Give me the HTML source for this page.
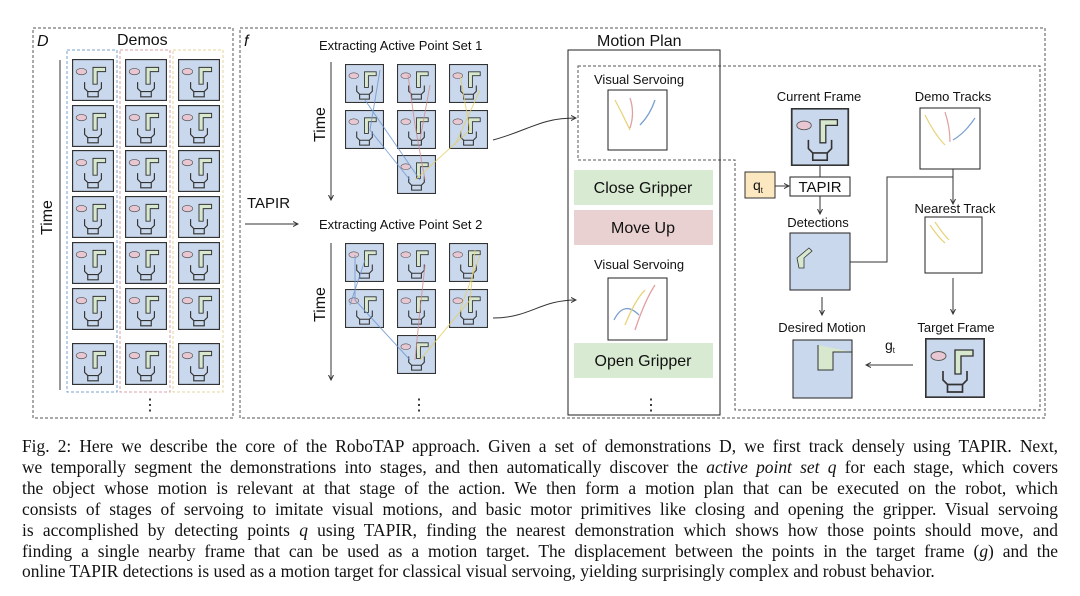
<!DOCTYPE html>
<html><head><meta charset="utf-8"><style>
html,body{margin:0;padding:0;background:#fff;width:1080px;height:596px;overflow:hidden}
.cap{position:absolute;left:22px;top:436px;width:1036px;font-family:"Liberation Serif",serif;font-size:17.4px;line-height:20.9px;color:#111}
.cap div{text-align:justify;text-align-last:justify;white-space:nowrap}
.cap div.l{text-align-last:left}
svg text{font-family:"Liberation Sans",sans-serif;fill:#111}
</style></head><body>
<svg width="1080" height="430" style="position:absolute;left:0;top:0">
<defs>
<marker id="ah" markerWidth="6" markerHeight="6" refX="5" refY="3" orient="auto"><path d="M0,0.5 L5,3 L0,5.5" fill="none" stroke="#333" stroke-width="1"/></marker>
<symbol id="t" viewBox="0 0 40 40">
<rect x="0.5" y="0.5" width="39" height="39" fill="#c9d8ec" stroke="#333" stroke-width="1.2"/>
<path d="M20 8 h12 v4 h-8 v12 h-4z" fill="#d8e8cf" stroke="#333" stroke-width="0.9"/>
<ellipse cx="9" cy="12" rx="5" ry="3" fill="#e8c7d3" stroke="#555" stroke-width="0.6"/>
<path d="M12 22 v6 l3 3 h10 l3 -3 v-6 M15 31 v5 h10 v-5" fill="none" stroke="#333" stroke-width="1.1"/>
</symbol>
</defs>
<g fill="none" stroke="#555" stroke-dasharray="3,2" stroke-width="1">
<rect x="33" y="28" width="200" height="390"/>
<rect x="240" y="28" width="805" height="390"/>
<rect x="67" y="50" width="50" height="342" stroke="#7aa0d0"/>
<rect x="120" y="50" width="50" height="342" stroke="#d9a0a8"/>
<rect x="173" y="50" width="50" height="342" stroke="#e6d49a"/>
<path d="M578 66 H1040 V410 H735 V160 H578 Z"/>
</g>
<text x="37" y="46" font-size="16" font-style="italic">D</text>
<text x="117" y="45" font-size="16">Demos</text>
<text x="244" y="46" font-size="16" font-style="italic">f</text>
<line x1="60" y1="60" x2="60" y2="390" stroke="#333"/>
<text transform="translate(52,235) rotate(-90)" font-size="16">Time</text>
<g>
<use href="#t" x="72" y="59" width="42" height="42"/><use href="#t" x="125" y="59" width="42" height="42"/><use href="#t" x="178" y="59" width="42" height="42"/>
<use href="#t" x="72" y="105" width="42" height="42"/><use href="#t" x="125" y="105" width="42" height="42"/><use href="#t" x="178" y="105" width="42" height="42"/>
<use href="#t" x="72" y="150" width="42" height="42"/><use href="#t" x="125" y="150" width="42" height="42"/><use href="#t" x="178" y="150" width="42" height="42"/>
<use href="#t" x="72" y="196" width="42" height="42"/><use href="#t" x="125" y="196" width="42" height="42"/><use href="#t" x="178" y="196" width="42" height="42"/>
<use href="#t" x="72" y="242" width="42" height="42"/><use href="#t" x="125" y="242" width="42" height="42"/><use href="#t" x="178" y="242" width="42" height="42"/>
<use href="#t" x="72" y="288" width="42" height="42"/><use href="#t" x="125" y="288" width="42" height="42"/><use href="#t" x="178" y="288" width="42" height="42"/>
<use href="#t" x="72" y="343" width="42" height="42"/><use href="#t" x="125" y="343" width="42" height="42"/><use href="#t" x="178" y="343" width="42" height="42"/>
</g>
<text x="142" y="410" font-size="16">⋮</text>
<text x="247" y="208" font-size="15">TAPIR</text>
<line x1="245" y1="224" x2="298" y2="224" stroke="#333" marker-end="url(#ah)"/>
<text x="319" y="50" font-size="13">Extracting Active Point Set 1</text>
<text x="319" y="229" font-size="13">Extracting Active Point Set 2</text>
<line x1="331" y1="62" x2="331" y2="200" stroke="#333" marker-end="url(#ah)"/>
<line x1="331" y1="243" x2="331" y2="380" stroke="#333" marker-end="url(#ah)"/>
<text transform="translate(325,142) rotate(-90)" font-size="16">Time</text>
<text transform="translate(325,322) rotate(-90)" font-size="16">Time</text>
<use href="#t" x="345" y="64" width="39" height="39"/><use href="#t" x="397" y="64" width="39" height="39"/><use href="#t" x="449" y="64" width="39" height="39"/>
<use href="#t" x="345" y="110" width="39" height="39"/><use href="#t" x="397" y="110" width="39" height="39"/><use href="#t" x="449" y="110" width="39" height="39"/>
<use href="#t" x="397" y="155" width="39" height="39"/>
<use href="#t" x="345" y="243" width="39" height="39"/><use href="#t" x="397" y="243" width="39" height="39"/><use href="#t" x="449" y="243" width="39" height="39"/>
<use href="#t" x="345" y="289" width="39" height="39"/><use href="#t" x="397" y="289" width="39" height="39"/><use href="#t" x="449" y="289" width="39" height="39"/>
<use href="#t" x="397" y="335" width="39" height="39"/>
<g fill="none" stroke-width="1" opacity="0.8">
<path d="M380 70 L370 130 L410 180 M365 100 L420 180" stroke="#6b95d0"/>
<path d="M408 75 L415 125 L425 180 M430 85 L420 140" stroke="#d08c8c"/>
<path d="M460 75 L470 130 L415 180 M480 90 L455 145" stroke="#e2cf6a"/>
<path d="M355 255 L355 300 L410 360 M365 260 L350 305" stroke="#6b95d0"/>
<path d="M425 265 L420 310 L415 360" stroke="#d08c8c"/>
<path d="M475 250 L470 300 L420 360 M480 255 L460 310" stroke="#e2cf6a"/>
</g>
<text x="411" y="410" font-size="16">⋮</text>
<path d="M493 140 C530 130,540 118,576 118" fill="none" stroke="#333" marker-end="url(#ah)"/>
<path d="M493 318 C530 318,540 300,576 300" fill="none" stroke="#333" marker-end="url(#ah)"/>
<rect x="568" y="50" width="152" height="365" fill="none" stroke="#222" stroke-width="1"/>
<text x="597" y="46" font-size="16">Motion Plan</text>
<text x="594" y="84" font-size="13">Visual Servoing</text>
<rect x="608" y="90" width="59" height="60" fill="#fff" stroke="#222"/>
<g fill="none" stroke-width="1.3"><path d="M615 100 q8 15 15 30" stroke="#e8d37a"/><path d="M630 98 q5 15 0 30" stroke="#e0a0a0"/><path d="M655 100 q-5 15 -15 25" stroke="#7aa0d0"/></g>
<rect x="574" y="170" width="139" height="35" fill="#d9ead3"/>
<text x="643" y="193" font-size="16" text-anchor="middle">Close Gripper</text>
<rect x="574" y="210" width="139" height="35" fill="#ead1d1"/>
<text x="643" y="233" font-size="16" text-anchor="middle">Move Up</text>
<text x="594" y="269" font-size="13">Visual Servoing</text>
<rect x="608" y="278" width="59" height="62" fill="#fff" stroke="#222"/>
<g fill="none" stroke-width="1.3"><path d="M614 320 q10 -20 25 -5" stroke="#7aa0d0"/><path d="M625 325 q10 -25 20 -35" stroke="#e8d37a"/><path d="M635 330 q10 -30 20 -45" stroke="#e0a0a0"/></g>
<rect x="574" y="343" width="139" height="35" fill="#d9ead3"/>
<text x="643" y="366" font-size="16" text-anchor="middle">Open Gripper</text>
<text x="643" y="410" font-size="16">⋮</text>
<text x="819" y="101" font-size="13" text-anchor="middle">Current Frame</text>
<use href="#t" x="790" y="108" width="60" height="58"/>
<text x="953" y="101" font-size="13" text-anchor="middle">Demo Tracks</text>
<rect x="920" y="108" width="60" height="61" fill="#fff" stroke="#222"/>
<g fill="none" stroke-width="1.2"><path d="M925 115 q10 20 20 30" stroke="#e8d37a"/><path d="M945 112 q5 15 5 30" stroke="#e0a0a0"/><path d="M975 118 q-10 15 -22 22" stroke="#7aa0d0"/></g>
<rect x="745" y="172" width="30" height="26" fill="#fbe8c0" stroke="#333"/>
<text x="753" y="190" font-size="14">q<tspan font-size="8" dy="3">t</tspan></text>
<line x1="775" y1="186" x2="789" y2="186" stroke="#333" marker-end="url(#ah)"/>
<rect x="790" y="177" width="60" height="19" fill="#fff" stroke="#222"/>
<text x="820" y="192" font-size="15" text-anchor="middle">TAPIR</text>
<line x1="820" y1="166" x2="820" y2="177" stroke="#333"/>
<line x1="820" y1="196" x2="820" y2="214" stroke="#333" marker-end="url(#ah)"/>
<text x="818" y="227" font-size="13" text-anchor="middle">Detections</text>
<rect x="790" y="233" width="60" height="57" fill="#c9d8ec" stroke="#222"/>
<path d="M797 258 l12 -10 l3 3 l-8 7 v10 h-5z" fill="#d8e8cf" stroke="#333" stroke-width="0.8"/>
<polyline points="850,262 887,262 887,177 953,177" fill="none" stroke="#333"/>
<line x1="953" y1="169" x2="953" y2="204" stroke="#333" marker-end="url(#ah)"/>
<text x="955" y="213" font-size="13" text-anchor="middle">Nearest Track</text>
<rect x="925" y="217" width="57" height="56" fill="#fff" stroke="#222"/>
<path d="M930 225 q8 12 15 18 M935 222 q8 12 14 18" fill="none" stroke="#e8d37a" stroke-width="1.2"/>
<line x1="953" y1="278" x2="953" y2="314" stroke="#333" marker-end="url(#ah)"/>
<line x1="822" y1="297" x2="822" y2="315" stroke="#333" marker-end="url(#ah)"/>
<text x="822" y="332" font-size="13" text-anchor="middle">Desired Motion</text>
<text x="956" y="332" font-size="13" text-anchor="middle">Target Frame</text>
<rect x="793" y="340" width="59" height="58" fill="#c9d8ec" stroke="#222"/>
<path d="M818 345 v25 h15 v-18 h19" fill="#d8e8cf" stroke="#333"/>
<use href="#t" x="925" y="338" width="60" height="60"/>
<text x="885" y="350" font-size="14">g<tspan font-size="8" dy="3">t</tspan></text>
<line x1="913" y1="365" x2="866" y2="365" stroke="#333" marker-end="url(#ah)"/>
</svg>
<div class="cap">
<div>Fig. 2: Here we describe the core of the RoboTAP approach. Given a set of demonstrations D, we first track densely using TAPIR. Next,</div>
<div>we temporally segment the demonstrations into stages, and then automatically discover the <i>active point set q</i> for each stage, which covers</div>
<div>the object whose motion is relevant at that stage of the action. We then form a motion plan that can be executed on the robot, which</div>
<div>consists of stages of servoing to imitate visual motions, and basic motor primitives like closing and opening the gripper. Visual servoing</div>
<div>is accomplished by detecting points <i>q</i> using TAPIR, finding the nearest demonstration which shows how those points should move, and</div>
<div>finding a single nearby frame that can be used as a motion target. The displacement between the points in the target frame (<i>g</i>) and the</div>
<div class="l">online TAPIR detections is used as a motion target for classical visual servoing, yielding surprisingly complex and robust behavior.</div>
</div>
</body></html>
